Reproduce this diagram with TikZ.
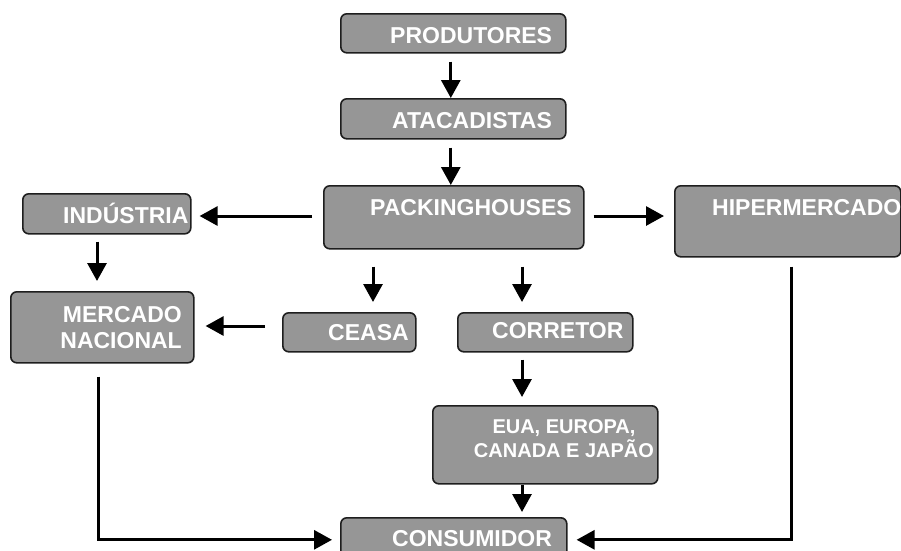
\documentclass[tikz,border=0pt]{standalone}
\usepackage{fontspec}
\setmainfont{Liberation Sans}
\usetikzlibrary{arrows.meta,calc}
\definecolor{boxgray}{RGB}{150,150,150}
\definecolor{boxline}{RGB}{30,30,30}
\tikzset{
  chainbox/.style={draw=boxline, line width=1.6pt, fill=boxgray, rounded corners=6pt, inner sep=0pt, anchor=north west},
  chaintext/.style={text=white, inner sep=0pt, font=\bfseries\fontsize{23}{26}\selectfont},
  chainarrow/.style={-{Triangle[length=18pt,width=19pt]}, line width=3pt}
}
\begin{document}
\begin{tikzpicture}[x=1pt, y=-1pt]
\useasboundingbox (0,0) rectangle (901,550);
% caixas
\node[chainbox, minimum width=225pt, minimum height=39pt] (prod) at (340,13) {};
\node[chainbox, minimum width=225pt, minimum height=40pt] (atac) at (340,98) {};
\node[chainbox, minimum width=260pt, minimum height=63pt] (pack) at (323,185) {};
\node[chainbox, minimum width=168pt, minimum height=40pt] (indu) at (22,193) {};
\node[chainbox, minimum width=226pt, minimum height=71pt] (hiper) at (674,185) {};
\node[chainbox, minimum width=183pt, minimum height=71pt] (merc) at (10,291) {};
\node[chainbox, minimum width=133pt, minimum height=39pt] (ceasa) at (282,312) {};
\node[chainbox, minimum width=175pt, minimum height=39pt] (corr) at (457,312) {};
\node[chainbox, minimum width=225pt, minimum height=78pt] (eua) at (432,405) {};
\node[chainbox, minimum width=226pt, minimum height=44pt] (cons) at (340,517) {};
% textos
\node[chaintext, anchor=base west] (prod-t) at (390,43) {PRODUTORES};
\node[chaintext, anchor=base west] (atac-t) at (392,128) {ATACADISTAS};
\node[chaintext, anchor=base west] (pack-t) at (370,215) {PACKINGHOUSES};
\node[chaintext, anchor=base west] (indu-t) at (63,223) {INDÚSTRIA};
\node[chaintext, anchor=base west] (hiper-t) at (712,215) {HIPERMERCADO};
\node[chaintext, anchor=base east, align=right] (merc-t) at (182,348) {MERCADO\\NACIONAL};
\node[chaintext, anchor=base west] (ceasa-t) at (328,340) {CEASA};
\node[chaintext, anchor=base west] (corr-t) at (492,338) {CORRETOR};
\node[chaintext, anchor=base, align=center, font=\bfseries\fontsize{20}{24}\selectfont] (eua-t) at (564,457) {EUA, EUROPA,\\CANADA E JAPÃO};
\node[chaintext, anchor=base west] (cons-t) at (392,546) {CONSUMIDOR};
% setas
\draw[chainarrow, shorten <=8pt] ([xshift=-2.5pt]prod.south) -- ([xshift=-2.5pt]atac.north);
\draw[chainarrow, shorten <=8pt] ([xshift=-2.5pt]atac.south) -- ([xshift=-2.5pt]atac.south |- pack.north);
\draw[chainarrow, shorten <=11pt, shorten >=8pt] (pack.west |- 0,216) -- (indu.east |- 0,216);
\draw[chainarrow, shorten <=9pt, shorten >=10pt] (pack.east |- 0,216) -- (hiper.west |- 0,216);
\draw[chainarrow, shorten <=7pt, shorten >=10pt] (indu.south -| 97,0) -- (merc.north -| 97,0);
\draw[chainarrow, shorten <=17pt, shorten >=10pt] (pack.south -| 373,0) -- (ceasa.north -| 373,0);
\draw[chainarrow, shorten <=17pt, shorten >=10pt] (pack.south -| 522,0) -- (corr.north -| 522,0);
\draw[chainarrow, shorten <=17pt, shorten >=11pt] (ceasa.west |- 0,326) -- (merc.east |- 0,326);
\draw[chainarrow, shorten <=7pt, shorten >=8pt] (corr.south -| 522,0) -- (eua.north -| 522,0);
\draw[chainarrow, shorten >=5pt] (eua.south -| 522,0) -- (cons.north -| 522,0);
\draw[chainarrow, shorten <=13pt, shorten >=8pt] (merc.south -| 98,0) |- (cons.west);
\draw[chainarrow, shorten <=9pt, shorten >=9pt] (hiper.south -| 791,0) |- (cons.east);
\end{tikzpicture}
\end{document}
